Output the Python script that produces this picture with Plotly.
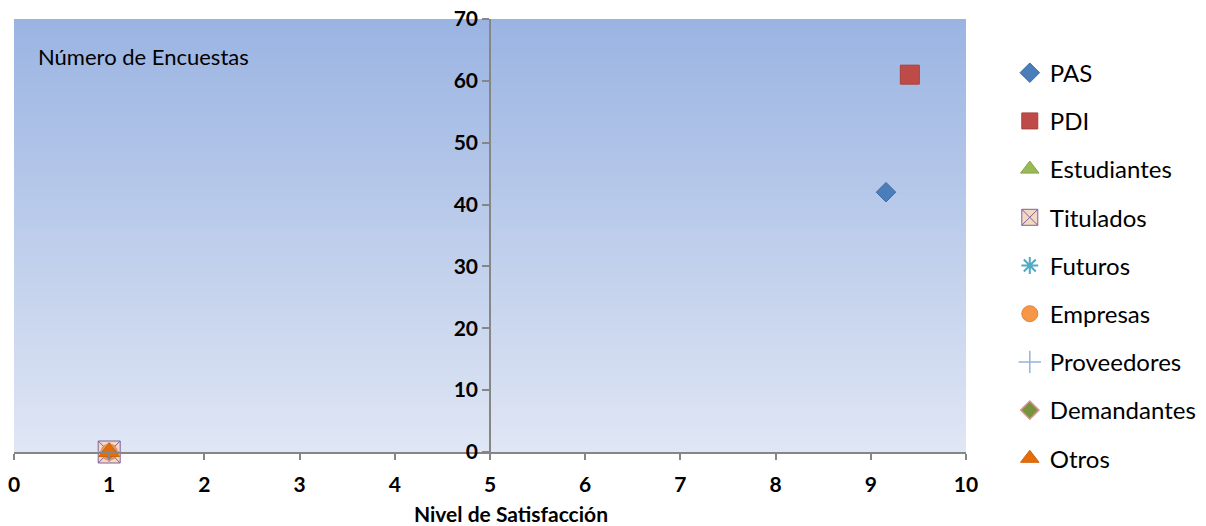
import numpy as np
import plotly.graph_objects as go

# Survey groups: satisfaction level (x) vs number of surveys (y)
groups = ["PAS", "PDI", "Estudiantes", "Titulados", "Futuros",
          "Empresas", "Proveedores", "Demandantes", "Otros"]
satisfaction = [9.16, 9.41, 1, 1, 1, 1, 1, 1, 1]
surveys = [42, 61, 0, 0, 0, 0, 0, 0, 0]

x_ticks = list(range(0, 11))
y_ticks = list(range(0, 71, 10))

# marker style per group: symbol, size, fill, outline colour, outline width
styles = {
    "PAS":         dict(symbol="diamond", size=15, color="#4a7ebb", line=dict(color="#3d6aa3", width=1)),
    "PDI":         dict(symbol="square", size=19, color="#be4b48", line=dict(color="#a9403d", width=1)),
    "Estudiantes": dict(symbol="triangle-up", size=18, color="#98b954", line=dict(color="#86a548", width=1)),
    "Titulados":   dict(symbol="square-x", size=22, color="#f3d9bf", line=dict(color="#7d60a0", width=1)),
    "Futuros":     dict(symbol="asterisk-open", size=14, color="#4bacc6", line=dict(color="#4bacc6", width=2)),
    "Empresas":    dict(symbol="circle", size=16, color="#f79646", line=dict(color="#e3863a", width=1)),
    "Proveedores": dict(symbol="cross-thin-open", size=16, color="#95b3d7", line=dict(color="#95b3d7", width=1.5)),
    "Demandantes": dict(symbol="diamond", size=14, color="#77933c", line=dict(color="#d99694", width=1.5)),
    "Otros":       dict(symbol="triangle-up", size=18, color="#e46c0a", line=dict(color="#d46208", width=1)),
}

fig = go.Figure()

# vertical gradient behind the plot area
y_edges = np.linspace(0, 70, 141)
shade = [[v, v] for v in np.linspace(0, 1, 140)]
fig.add_trace(go.Heatmap(
    x=[0, 5, 10], y=y_edges, z=shade,
    colorscale=[[0, "#e0e6f4"], [1, "#9ab4e2"]],
    showscale=False, hoverinfo="skip", showlegend=False,
))

for i, name in enumerate(groups):
    fig.add_trace(go.Scatter(
        x=[satisfaction[i]], y=[surveys[i]], mode="markers", name=name,
        marker=styles[name], legendgroup=name, cliponaxis=False,
    ))

axis_grey = "#868686"
tick_font = dict(family="Lato", size=21, color="black", weight="bold")

fig.update_layout(
    width=1206, height=526,
    margin=dict(l=14, r=240, t=19, b=74, autoexpand=False),
    paper_bgcolor="white", plot_bgcolor="white",
    font=dict(family="Lato", color="black"),
    xaxis=dict(
        range=[0, 10], tickvals=x_ticks, showgrid=False, zeroline=False,
        showline=True, linecolor=axis_grey, linewidth=1.5, automargin=False,
        ticks="outside", ticklen=6, tickwidth=1.5, tickcolor=axis_grey,
        tickfont=tick_font, ticklabelstandoff=7,
    ),
    yaxis=dict(
        range=[0, 70], tickvals=y_ticks, showgrid=False, zeroline=False,
        anchor="free", position=0.5, automargin=False,
        showline=True, linecolor=axis_grey, linewidth=1.5,
        ticks="outside", ticklen=7, tickwidth=1.5, tickcolor=axis_grey,
        tickfont=tick_font,
    ),
    legend=dict(
        x=1.046, xanchor="left", y=0.927, yanchor="top",
        font=dict(family="Lato", size=24, color="black"),
        tracegroupgap=14, itemwidth=30, bgcolor="rgba(0,0,0,0)",
        maxheight=520,
    ),
    annotations=[
        dict(text="Número de Encuestas", xref="paper", yref="paper",
             x=0.0231, y=0.9145, xanchor="left", yanchor="middle",
             showarrow=False, font=dict(family="Lato", size=22, color="black")),
        dict(text="Nivel de Satisfacción", xref="paper", yref="paper",
             x=0.522, y=-0.141, xanchor="center", yanchor="middle",
             showarrow=False, font=dict(family="Lato", size=21, color="black", weight="bold")),
    ],
)

fig.write_html("out.html")
